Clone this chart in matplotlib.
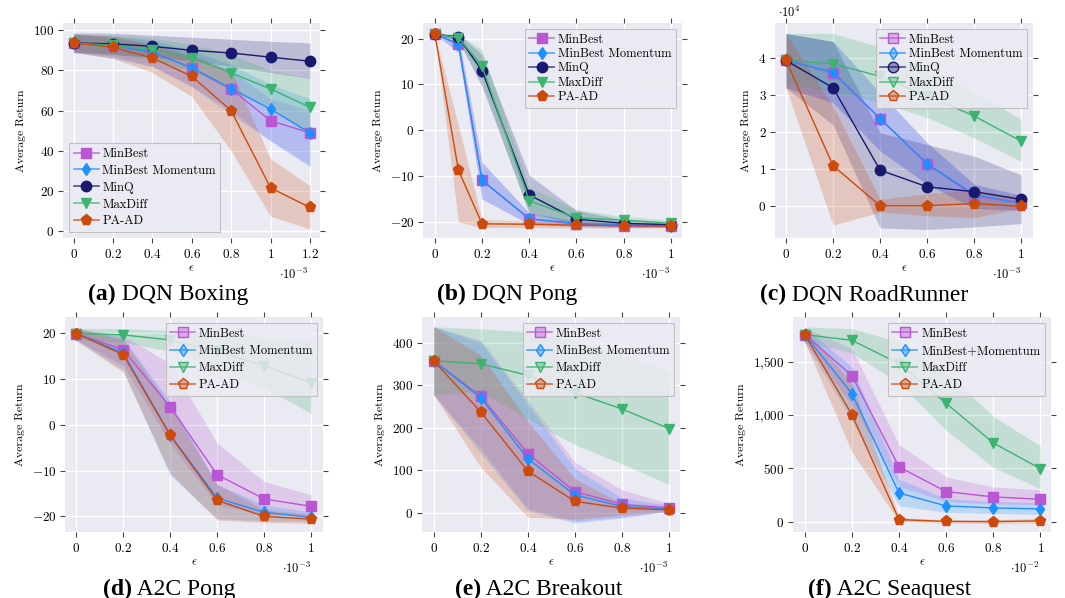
import matplotlib
matplotlib.use('Agg')
import matplotlib.pyplot as plt
from matplotlib.lines import Line2D
from matplotlib.ticker import FuncFormatter, FixedLocator
from matplotlib.colors import to_rgba

plt.rcParams['mathtext.fontset'] = 'cm'
plt.rcParams['font.family'] = 'cmr10'
plt.rcParams['axes.unicode_minus'] = False
plt.rcParams['axes.formatter.use_mathtext'] = True

# ---- data ----
names_dqn = ['MinBest', 'MinBest Momentum', 'MinQ', 'MaxDiff', 'PA-AD']
names_a2c = ['MinBest', 'MinBest Momentum', 'MaxDiff', 'PA-AD']
names_seaquest = ['MinBest', 'MinBest+Momentum', 'MaxDiff', 'PA-AD']

# (a) DQN Boxing, eps in 1e-3
boxing_eps = [0, 0.2, 0.4, 0.6, 0.8, 1.0, 1.2]
boxing_mean = [
    [93.7, 92.5, 89, 81.3, 70.8, 55, 49],
    [93.7, 92.5, 89, 81.3, 71, 60.8, 49],
    [93.7, 93.2, 92, 90, 88.7, 86.6, 84.6],
    [93.7, 92.5, 90.4, 86.2, 78.8, 70.8, 61.7],
    [93.7, 91.5, 86.2, 77.1, 60, 21.6, 11.9],
]
boxing_lo = [
    [89, 87, 82, 72, 60, 45, 33],
    [89, 86, 82, 72, 58, 45, 32],
    [89, 88, 86.5, 85, 82, 79, 76],
    [90, 88, 85, 80, 70, 62, 48],
    [89, 86, 79, 67, 40, 7.5, 1.2],
]
boxing_hi = [
    [98, 96, 93, 88, 80, 66, 60],
    [98, 97, 95, 90, 83, 73, 66],
    [98.7, 98.5, 97.5, 96.5, 95.5, 94.5, 93.7],
    [98, 97.5, 96, 93, 88, 80, 76],
    [98, 97, 93, 87, 80, 36, 22.7],
]

# (b) DQN Pong, eps in 1e-3
pong_eps = [0, 0.1, 0.2, 0.4, 0.6, 0.8, 1.0]
pong_mean = [
    [21, 18.8, -10.9, -19.3, -20.5, -20.9, -20.9],
    [21, 18.8, -10.9, -19.3, -20.3, -20.7, -20.8],
    [21, 20.3, 13, -14.1, -19.4, -20.3, -20.6],
    [21, 20.2, 14, -15.4, -19.1, -19.6, -20.3],
    [21, -8.7, -20.4, -20.5, -20.7, -20.8, -20.9],
]
pong_lo = [
    [21, 17, -15, -20.5, -21, -21.2, -21.2],
    [21, 17, -15, -20.5, -21, -21.2, -21.2],
    [21, 19.5, 9.5, -18, -20.5, -21, -21],
    [21, 19.5, 10.5, -18.5, -20.3, -20.5, -20.8],
    [21, -20, -21.2, -21.2, -21.3, -21.3, -21.3],
]
pong_hi = [
    [21, 20.5, -7, -18, -19.8, -20.3, -20.5],
    [21, 20.5, -7, -18, -19.8, -20.3, -20.5],
    [21, 21, 16.5, -9.8, -17.5, -19.5, -20],
    [21, 21, 17.5, -12.5, -17.3, -18.8, -19.6],
    [21, 1, -19.5, -19.8, -20, -20.2, -20.3],
]

# (c) DQN RoadRunner, return in 1e4, eps in 1e-3
road_eps = [0, 0.2, 0.4, 0.6, 0.8, 1.0]
road_mean = [
    [3.94, 3.61, 2.37, 1.15, 0.28, 0.1],
    [3.94, 3.62, 2.37, 1.15, 0.32, 0.08],
    [3.94, 3.2, 0.98, 0.53, 0.4, 0.19],
    [3.94, 3.85, 3.51, 2.99, 2.44, 1.76],
    [3.94, 1.1, 0.02, 0.02, 0.08, 0.0],
]
road_lo = [
    [3.2, 2.8, 1.5, 0.6, -0.05, -0.1],
    [3.2, 2.8, 1.5, 0.6, -0.05, -0.1],
    [3.2, 2.2, -0.58, -0.62, -0.55, -0.46],
    [3.3, 3.1, 2.8, 2.4, 1.85, 1.22],
    [3.2, -0.5, -0.15, -0.25, -0.3, -0.05],
]
road_hi = [
    [4.67, 4.45, 3.07, 1.72, 0.6, 0.3],
    [4.67, 4.45, 3.07, 1.72, 0.6, 0.3],
    [4.67, 4.45, 1.99, 1.67, 1.36, 0.85],
    [4.67, 4.67, 4.3, 3.7, 3.1, 2.35],
    [4.67, 2.7, 0.19, 0.35, 0.45, 0.25],
]

# (d) A2C Pong, eps in 1e-3
a2c_pong_eps = [0, 0.2, 0.4, 0.6, 0.8, 1.0]
a2c_pong_mean = [
    [19.9, 16.4, 3.9, -10.9, -16.2, -17.8],
    [19.9, 15.7, -2.2, -16.0, -19.1, -20.2],
    [19.9, 19.6, 18.5, 16.0, 12.9, 9.1],
    [19.9, 15.3, -2.3, -16.5, -20.0, -20.6],
]
a2c_pong_lo = [
    [18.5, 13, -4, -17.5, -19.5, -20],
    [18.5, 12, -11, -20.5, -21, -21],
    [18.5, 18, 16, 12.5, 8, 2.5],
    [18.3, 11.5, -10.5, -20.8, -21.3, -21.5],
]
a2c_pong_hi = [
    [21, 19.5, 13.3, -4, -12.4, -15.3],
    [21, 19, 5, -13, -17.5, -19],
    [21, 21, 20.5, 20, 19, 18],
    [21, 18.5, 4, -13, -18.5, -19.5],
]

# (e) A2C Breakout, eps in 1e-3
breakout_eps = [0, 0.2, 0.4, 0.6, 0.8, 1.0]
breakout_mean = [
    [357, 274, 139, 50, 20, 12],
    [357, 270, 127, 42, 15, 9],
    [357, 350, 323, 282, 244, 198],
    [357, 237, 98, 27, 11, 7],
]
breakout_lo = [
    [277, 150, 10, -20, -10, 5],
    [277, 140, 5, -24, -12, 3],
    [277, 285, 220, 160, 115, 67],
    [277, 107, -10, -15, -5, 3],
]
breakout_hi = [
    [437, 405, 265, 119, 54, 22],
    [437, 400, 255, 105, 35, 18],
    [437, 432, 425, 405, 370, 331],
    [437, 370, 215, 80, 22, 12],
]

# (f) A2C Seaquest, eps in 1e-2
seaquest_eps = [0, 0.2, 0.4, 0.6, 0.8, 1.0]
seaquest_mean = [
    [1752, 1369, 514, 284, 234, 212],
    [1752, 1200, 271, 150, 131, 122],
    [1752, 1699, 1481, 1110, 739, 499],
    [1752, 1004, 22, 5, 3, 10],
]
seaquest_lo = [
    [1680, 1100, 330, 190, 170, 160],
    [1680, 950, 150, 90, 80, 70],
    [1680, 1580, 1300, 857, 510, 312],
    [1680, 655, 5, -10, -15, -10],
]
seaquest_hi = [
    [1820, 1620, 723, 421, 327, 300],
    [1820, 1450, 400, 220, 190, 180],
    [1824, 1808, 1684, 1403, 988, 711],
    [1800, 1300, 40, 20, 20, 35],
]

# ---- styles ----
colors = {'MinBest': '#BA55D3', 'Momentum': '#1E90FF', 'MinQ': '#191970',
          'MaxDiff': '#3CB371', 'PA-AD': '#CC4A0C'}
markers = {'MinBest': ('s', 7.5), 'Momentum': ('d', 6.5), 'MinQ': ('o', 7.5),
           'MaxDiff': ('v', 7), 'PA-AD': ('p', 8)}


def key(name):
    if 'Momentum' in name:
        return 'Momentum'
    return name


W, H = 1065, 598
fig = plt.figure(figsize=(W / 100, H / 100), dpi=100)


def fmt(v, pos):
    s = f'{v:,.0f}' if abs(v) >= 1000 else f'{v:g}'
    return '$' + s.replace(',', '{,}') + '$'


def panel(box, eps, mean, lo, hi, names, xlim, ylim, xticks, yticks, loc,
          offset, light_legend, labelspacing=0.3, top_offset=None):
    l, t, r, b = box
    ax = fig.add_axes([l / W, 1 - b / H, (r - l) / W, (b - t) / H])
    ax.set_facecolor('#EAEAF2')
    for s in ax.spines.values():
        s.set_visible(False)
    ax.grid(True, color='white', lw=1.0)
    ax.set_axisbelow(True)

    for i, n in enumerate(names):
        c = colors[key(n)]
        ax.fill_between(eps, lo[i], hi[i], color=c, alpha=0.22, lw=0)
    handles = []
    for i, n in enumerate(names):
        c = colors[key(n)]
        m, ms = markers[key(n)]
        ax.plot(eps, mean[i], color=c, lw=1.0, marker=m, ms=ms, mec=c, mfc=c)
        if light_legend:
            mfc = to_rgba(c, 0.4)
        else:
            mfc = c
        handles.append(Line2D([], [], color=to_rgba(c, 0.75), lw=1.2, marker=m,
                              ms=ms, mec=c, mfc=mfc))

    ax.set_xlim(*xlim)
    ax.set_ylim(*ylim)
    ax.xaxis.set_major_locator(FixedLocator(xticks))
    ax.yaxis.set_major_locator(FixedLocator(yticks))
    ax.xaxis.set_major_formatter(FuncFormatter(fmt))
    ax.yaxis.set_major_formatter(FuncFormatter(fmt))
    ax.tick_params(axis='both', direction='out', length=3.6, width=0.8,
                   color='#444444', top=True, right=True, labelsize=9.5)
    ax.tick_params(axis='x', pad=3.5)
    ax.tick_params(axis='y', pad=2.5)
    ax.set_ylabel('Average Return', fontsize=8.5, labelpad=5)
    ax.set_xlabel(r'$\epsilon$', fontsize=9, labelpad=1)

    ax.text(0.955, -0.17, offset, transform=ax.transAxes, ha='right',
            va='center', fontsize=9)
    if top_offset:
        ax.text(0.012, 1.047, top_offset, transform=ax.transAxes, ha='left',
                va='center', fontsize=9)

    leg = ax.legend(handles, names, loc=loc, fontsize=9, frameon=True,
                    fancybox=False, edgecolor='#BBBBBB', facecolor='#EAEAF2',
                    framealpha=0.85, handlelength=2.0, handletextpad=0.3,
                    labelspacing=labelspacing, borderpad=0.35,
                    borderaxespad=0.5)
    leg.get_frame().set_linewidth(0.8)
    return ax


x_ticks = [0, 0.2, 0.4, 0.6, 0.8, 1.0]

panel((63, 23, 320, 238), boxing_eps, boxing_mean, boxing_lo, boxing_hi,
      names_dqn, (-0.054, 1.251), (-3.3, 103.6), boxing_eps,
      [0, 20, 40, 60, 80, 100], 'lower left', r'$\cdot 10^{-3}$', False,
      labelspacing=0.38)
panel((423, 23, 682, 238), pong_eps, pong_mean, pong_lo, pong_hi,
      names_dqn, (-0.05, 1.047), (-23.5, 23.4), x_ticks,
      [-20, -10, 0, 10, 20], 'upper right', r'$\cdot 10^{-3}$', False,
      labelspacing=0.18)
panel((775, 23, 1033, 238), road_eps, road_mean, road_lo, road_hi,
      names_dqn, (-0.047, 1.05), (-0.85, 4.95), x_ticks,
      [0, 1, 2, 3, 4], 'upper right', r'$\cdot 10^{-3}$', True,
      labelspacing=0.18, top_offset=r'$\cdot 10^{4}$')
panel((65, 317, 323, 532), a2c_pong_eps, a2c_pong_mean, a2c_pong_lo,
      a2c_pong_hi, names_a2c, (-0.047, 1.05), (-23.4, 23.5), x_ticks,
      [-20, -10, 0, 10, 20], 'upper right', r'$\cdot 10^{-3}$', True,
      labelspacing=0.4)
panel((422, 317, 680, 532), breakout_eps, breakout_mean, breakout_lo,
      breakout_hi, names_a2c, (-0.05, 1.047), (-45, 460), x_ticks,
      [0, 100, 200, 300, 400], 'upper right', r'$\cdot 10^{-3}$', True,
      labelspacing=0.4)
panel((793, 317, 1051, 532), seaquest_eps, seaquest_mean, seaquest_lo,
      seaquest_hi, names_seaquest, (-0.05, 1.045), (-94, 1917), x_ticks,
      [0, 500, 1000, 1500], 'upper right', r'$\cdot 10^{-2}$', True,
      labelspacing=0.4)

# ---- captions ----
captions = [(88, 300, '(a)', ' DQN Boxing'), (437, 300, '(b)', ' DQN Pong'),
            (760, 300, '(c)', ' DQN RoadRunner'), (103, 595, '(d)', ' A2C Pong'),
            (455, 595, '(e)', ' A2C Breakout'), (808, 595, '(f)', ' A2C Seaquest')]
renderer = fig.canvas.get_renderer()
for x, y, tag, txt in captions:
    t1 = fig.text(x / W, 1 - y / H, tag, fontsize=17, fontweight='bold',
                  family='Liberation Serif', va='baseline', ha='left')
    w = t1.get_window_extent(renderer=renderer).width
    fig.text((x + w) / W, 1 - y / H, txt, fontsize=17,
             family='Liberation Serif', va='baseline', ha='left')

fig.savefig('out.png', dpi=100)
